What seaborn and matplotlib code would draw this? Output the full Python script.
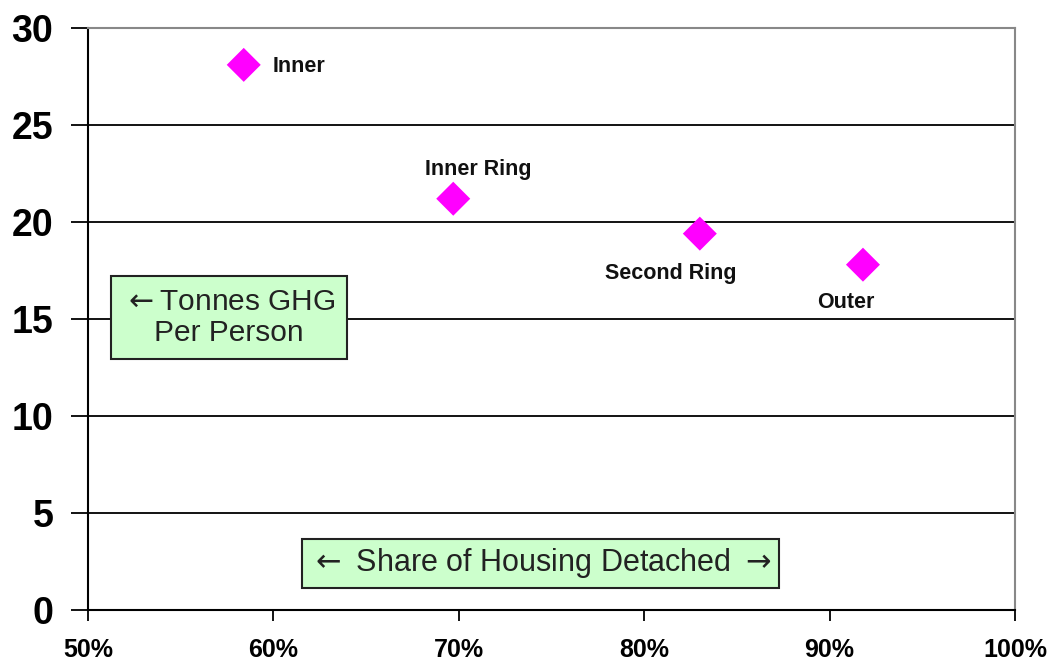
import matplotlib
matplotlib.use("Agg")
import matplotlib.pyplot as plt
import seaborn as sns
import pandas as pd

# Data
rings = ["Inner", "Inner Ring", "Second Ring", "Outer"]
share_detached = [0.584, 0.697, 0.830, 0.918]
ghg_per_person = [28.1, 21.2, 19.4, 17.8]

# label offsets in points (dx, dy) and alignment
label_offsets = [(21, -1), (18, 21), (-21, -29), (-12, -27)]
label_align = ["left", "center", "center", "center"]

df = pd.DataFrame({"RING": rings, "SHARE": share_detached, "GHG": ghg_per_person})

sns.set_theme(style="white")
plt.rcParams["font.family"] = ["Liberation Sans", "DejaVu Sans"]
plt.rcParams["mathtext.fontset"] = "dejavusans"

fig = plt.figure(figsize=(10.55, 6.68), dpi=100)
ax = fig.add_axes([88 / 1055, 58 / 668, 927 / 1055, 582 / 668])

sns.scatterplot(data=df, x="SHARE", y="GHG", marker="D", s=300, color="#ff00ff",
                edgecolor="none", ax=ax, zorder=5)

for ring, x, y, off, ha in zip(rings, share_detached, ghg_per_person, label_offsets, label_align):
    ax.annotate(ring, (x, y), xytext=off, textcoords="offset points", ha=ha, va="center",
                fontsize=15.5, fontweight="bold", color="#111111")

ax.set_xlim(0.5, 1.0)
ax.set_ylim(0, 30)
ax.set_xticks([0.5, 0.6, 0.7, 0.8, 0.9, 1.0])
ax.set_xticklabels(["50%", "60%", "70%", "80%", "90%", "100%"])
ax.set_yticks([0, 5, 10, 15, 20, 25, 30])
ax.set_xlabel("")
ax.set_ylabel("")

for yv in [5, 10, 15, 20, 25]:
    ax.axhline(yv, color="black", lw=1.3, zorder=1)

for side in ["top", "right"]:
    ax.spines[side].set_color("#888888")
    ax.spines[side].set_linewidth(1.5)
for side in ["left", "bottom"]:
    ax.spines[side].set_color("black")
    ax.spines[side].set_linewidth(1.5)

ax.tick_params(axis="y", direction="out", length=12, width=1.3, color="black", pad=13,
               left=True)
ax.tick_params(axis="x", direction="out", length=8, width=1.3, color="black", pad=12,
               bottom=True)
for lab in ax.get_yticklabels():
    lab.set_fontsize(27)
    lab.set_fontweight("bold")
    lab.set_color("black")
for lab in ax.get_xticklabels():
    lab.set_fontsize(18)
    lab.set_fontweight("bold")
    lab.set_color("black")

box = dict(boxstyle="square,pad=0.4", facecolor="#ccffcc", edgecolor="#222222", lw=1.5)
ax.text(0.152, 0.503, r"$\leftarrow$Tonnes GHG" + "\nPer Person", transform=ax.transAxes,
        ha="center", va="center", fontsize=21.5, color="#222222", bbox=box,
        linespacing=1.15, zorder=6, multialignment="center")
ax.text(0.488, 0.080, r"$\leftarrow$ Share of Housing Detached $\rightarrow$",
        transform=ax.transAxes, ha="center", va="center", fontsize=22, color="#222222",
        bbox=dict(boxstyle="square,pad=0.25", facecolor="#ccffcc", edgecolor="#222222", lw=1.5),
        zorder=6)

fig.savefig("out.png", dpi=100)
